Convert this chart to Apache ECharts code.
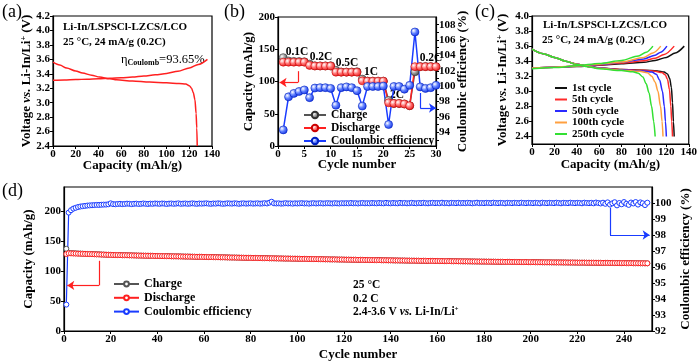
<!DOCTYPE html>
<html>
<head>
<meta charset="utf-8">
<script src="https://cdn.jsdelivr.net/npm/echarts@6.0.0/dist/echarts.min.js"></script>
<style>
  html, body { margin: 0; padding: 0; background: #fff; }
  #main { width: 700px; height: 364px; }
</style>
</head>
<body>
<div id="main"></div>
<script>
var FONT = 'Liberation Serif';

// (a) first cycle charge / discharge, [capacity mAh/g, voltage V]
var aCharge = [[0,3.31],[10,3.315],[20,3.32],[30,3.325],[40,3.33],[50,3.337],[60,3.345],[70,3.355],[80,3.37],[90,3.385],[100,3.405],[110,3.435],[120,3.48],[128,3.53],[136,3.6]];
var aDischarge = [[0,3.56],[6,3.52],[12,3.48],[20,3.44],[26,3.41],[34,3.38],[41,3.355],[50,3.33],[56,3.316],[70,3.30],[85,3.285],[100,3.275],[111,3.265],[117,3.258],[120,3.235],[122,3.2],[123.5,3.14],[125,3.04],[126,2.85],[126.6,2.65],[127,2.4]];

// (b) rate performance
var bCycles = [1,2,3,4,5,6,7,8,9,10,11,12,13,14,15,16,17,18,19,20,21,22,23,24,25,26,27,28,29,30];
var bCharge = [137,131.8,131.2,130.9,130.6,127,124.3,124.2,124.2,124.4,117.4,114.7,114.6,114.7,115.1,103.7,100.6,100.5,100.5,100.5,70.6,66,66,65.3,62.4,115,123.1,123.4,123.2,122.9];
var bDischarge = [130,130,130,130,130,125,124,124,124,124,114.5,114.5,114.5,114.5,114.5,101,100.5,100.5,100.5,100.5,67,66,66,65,62.5,123,123,123,123,123];
var bCE = [94.3,98.6,99.05,99.3,99.5,98.5,99.75,99.8,99.8,99.7,97.5,99.8,99.9,99.8,99.4,97.4,99.95,99.95,99.95,100.0,95.0,99.95,99.95,99.6,100.1,107.05,99.9,99.7,99.8,100.1];
var bRates = ['0.1C','0.2C','0.5C','1C','2C','0.2C'];

// (c) selected cycles, [capacity, voltage]
var cNames = ['1st cycle','5th cycle','50th cycle','100th cycle','250th cycle'];
var cColors = ['#111111','#ff2a2a','#2a2aff','#ffa040','#33e033'];
var c1C = [[0,3.31],[20,3.32],[40,3.33],[60,3.345],[80,3.365],[100,3.385],[110,3.41],[120,3.45],[128,3.51],[136,3.6]];
var c5C = [[0,3.31],[20,3.32],[40,3.333],[60,3.35],[80,3.375],[100,3.405],[110,3.44],[118,3.49],[127,3.6]];
var c50C = [[0,3.31],[20,3.32],[40,3.335],[60,3.355],[80,3.385],[100,3.43],[110,3.48],[115,3.52],[120.5,3.6]];
var c100C = [[0,3.31],[20,3.32],[40,3.337],[60,3.36],[80,3.39],[100,3.45],[108,3.51],[115,3.6]];
var c250C = [[0,3.30],[20,3.315],[40,3.34],[60,3.37],[80,3.41],[95,3.47],[102,3.52],[108,3.6]];
var c1D = [[0,3.56],[10,3.5],[20,3.45],[30,3.4],[40,3.36],[50,3.33],[60,3.31],[80,3.29],[100,3.28],[112,3.27],[118,3.255],[121,3.23],[123,3.17],[124.5,3.05],[125.5,2.85],[126.3,2.6],[127,2.4]];
var c5D = [[0,3.56],[10,3.5],[20,3.45],[30,3.4],[40,3.36],[50,3.33],[60,3.31],[80,3.29],[100,3.278],[110,3.265],[116,3.25],[119,3.22],[121,3.16],[122.8,3.02],[124,2.8],[124.8,2.6],[125.5,2.4]];
var c50D = [[0,3.56],[10,3.5],[20,3.45],[30,3.4],[40,3.36],[50,3.33],[60,3.31],[80,3.285],[100,3.27],[107,3.255],[111,3.225],[114,3.15],[116.5,3.0],[118.2,2.8],[119.2,2.6],[120,2.4]];
var c100D = [[0,3.56],[10,3.5],[20,3.45],[30,3.4],[40,3.36],[50,3.33],[60,3.305],[80,3.28],[96,3.265],[103,3.245],[107,3.2],[110,3.12],[112.5,3.0],[114.8,2.8],[116.2,2.6],[117,2.4]];
var c250D = [[0,3.56],[10,3.5],[20,3.45],[30,3.4],[40,3.355],[50,3.325],[60,3.3],[80,3.275],[90,3.26],[95,3.24],[99,3.19],[102,3.1],[104.5,2.98],[106.8,2.8],[108.7,2.6],[110,2.4]];
var cChargeSets = [c1C, c5C, c50C, c100C, c250C];
var cDischargeSets = [c1D, c5D, c50D, c100D, c250D];

// (d) long cycling at 0.2C, cycles 1..250
var dDischarge = [
128.3,129.5,129.4,129.2,129.1,128.9,128.8,128.6,128.5,128.3,
128.2,128.0,127.9,127.7,127.6,127.4,127.3,127.1,127.0,126.8,
126.7,126.6,126.5,126.4,126.3,126.3,126.2,126.1,126.0,125.9,
125.8,125.7,125.6,125.5,125.4,125.4,125.3,125.2,125.1,125.0,
124.9,124.8,124.8,124.7,124.6,124.5,124.4,124.4,124.3,124.2,
124.1,124.0,124.0,123.9,123.8,123.7,123.6,123.6,123.5,123.4,
123.3,123.2,123.2,123.1,123.0,122.9,122.8,122.8,122.7,122.6,
122.5,122.4,122.4,122.3,122.2,122.1,122.0,122.0,121.9,121.8,
121.7,121.7,121.6,121.5,121.4,121.4,121.3,121.2,121.2,121.1,
121.0,120.9,120.9,120.8,120.7,120.7,120.6,120.5,120.5,120.4,
120.3,120.2,120.2,120.1,120.0,120.0,119.9,119.8,119.8,119.7,
119.6,119.5,119.5,119.4,119.3,119.3,119.2,119.1,119.1,119.0,
118.9,118.9,118.8,118.7,118.7,118.6,118.6,118.5,118.4,118.4,
118.3,118.2,118.2,118.1,118.1,118.0,117.9,117.9,117.8,117.8,
117.7,117.6,117.6,117.5,117.5,117.4,117.3,117.3,117.2,117.2,
117.1,117.1,117.0,117.0,116.9,116.9,116.8,116.8,116.7,116.7,
116.6,116.6,116.5,116.5,116.4,116.4,116.3,116.3,116.2,116.2,
116.1,116.1,116.0,116.0,115.9,115.9,115.8,115.8,115.7,115.7,
115.6,115.6,115.5,115.5,115.4,115.4,115.3,115.3,115.2,115.2,
115.2,115.1,115.1,115.0,115.0,114.9,114.9,114.9,114.8,114.8,
114.7,114.7,114.7,114.6,114.6,114.5,114.5,114.5,114.4,114.4,
114.3,114.3,114.3,114.2,114.2,114.1,114.1,114.1,114.0,114.0,
113.9,113.9,113.9,113.8,113.8,113.7,113.7,113.7,113.6,113.6,
113.5,113.5,113.5,113.4,113.4,113.3,113.3,113.3,113.2,113.2,
113.1,113.1,113.1,113.0,113.0,112.9,112.9,112.9,112.8,112.8];
var dCharge = [
137.0,130.3,129.9,129.7,129.5,129.2,129.1,128.9,128.7,128.5,
128.4,128.2,128.1,127.9,127.8,127.6,127.4,127.2,127.1,126.9,
126.8,126.7,126.6,126.5,126.4,126.4,126.3,126.2,126.1,126.0,
125.9,125.8,125.7,125.6,125.5,125.5,125.4,125.3,125.2,125.1,
125.0,124.9,124.9,124.8,124.7,124.6,124.5,124.5,124.4,124.3,
124.2,124.1,124.1,124.0,123.9,123.8,123.7,123.7,123.6,123.5,
123.4,123.3,123.3,123.2,123.1,123.0,122.9,122.9,122.8,122.7,
122.6,122.5,122.5,122.4,122.3,122.2,122.1,122.1,122.0,121.9,
121.8,121.8,121.7,121.6,121.5,121.4,121.4,121.2,121.1,121.1,
121.0,120.9,120.9,120.8,120.7,120.7,120.6,120.5,120.5,120.4,
120.3,120.2,120.2,120.1,120.0,120.0,119.9,119.8,119.8,119.7,
119.6,119.5,119.5,119.4,119.3,119.3,119.2,119.1,119.1,119.0,
118.9,118.9,118.8,118.7,118.7,118.6,118.6,118.5,118.4,118.4,
118.3,118.2,118.2,118.1,118.1,118.0,117.9,117.9,117.8,117.8,
117.7,117.6,117.6,117.5,117.5,117.4,117.3,117.3,117.2,117.2,
117.1,117.1,117.0,117.0,116.9,116.9,116.8,116.8,116.7,116.7,
116.6,116.6,116.5,116.5,116.4,116.4,116.3,116.3,116.2,116.2,
116.1,116.1,116.0,116.0,115.9,115.9,115.8,115.8,115.7,115.7,
115.6,115.6,115.5,115.5,115.4,115.4,115.3,115.3,115.2,115.2,
115.2,115.1,115.1,115.0,115.0,114.9,114.9,114.9,114.8,114.8,
114.7,114.7,114.7,114.6,114.6,114.5,114.5,114.5,114.4,114.4,
114.3,114.3,114.3,114.2,114.2,114.1,114.1,114.1,114.0,114.0,
113.9,113.9,113.9,113.8,113.8,113.7,113.7,113.7,113.6,113.6,
113.5,113.5,113.5,113.4,113.4,113.3,113.3,113.3,113.2,113.2,
113.1,113.1,113.1,113.0,113.0,112.9,112.9,112.9,112.8,112.8];
var dCE = [
93.65,99.4,99.55,99.65,99.7,99.75,99.78,99.8,99.82,99.84,
99.85,99.86,99.87,99.88,99.88,99.89,99.9,99.9,99.92,99.98,
99.93,99.92,99.94,99.95,99.93,99.94,99.96,99.95,99.93,99.95,
99.96,99.94,99.95,99.97,99.95,99.94,99.96,99.95,99.97,99.96,
99.95,99.97,99.96,99.94,99.96,99.97,99.95,99.96,99.98,99.95,
99.96,99.97,99.95,99.96,99.98,99.96,99.95,99.97,99.96,99.97,
99.98,99.96,99.95,99.97,99.96,99.98,99.97,99.95,99.96,99.98,
99.97,99.96,99.98,99.97,99.95,99.97,99.98,99.96,99.97,99.98,
99.96,99.97,99.98,99.96,99.97,99.99,99.97,100.02,100.08,99.98,
99.97,99.98,99.96,99.97,99.99,99.97,99.98,99.96,99.98,99.97,
99.98,99.99,99.97,99.98,99.96,99.98,99.99,99.97,99.98,99.99,
99.97,99.98,99.99,99.98,99.97,99.99,99.98,99.97,99.99,99.98,
99.99,99.98,100.0,99.98,99.99,99.97,99.99,100.0,99.98,99.99,
99.98,100.0,99.99,99.98,100.0,99.99,99.98,100.01,99.99,99.98,
100.0,99.99,99.98,100.01,99.99,100.0,99.98,99.99,100.01,99.99,
99.98,100.0,99.99,100.01,99.99,99.98,100.0,100.01,99.99,100.0,
99.99,100.02,99.99,100.0,99.98,100.01,100.0,99.99,100.01,99.99,
100.0,99.99,100.01,100.0,99.98,100.0,100.02,99.99,100.0,99.99,
100.01,100.0,99.99,100.02,100.0,99.99,100.01,100.0,99.98,100.01,
100.0,99.99,100.01,100.0,99.99,100.02,100.0,99.99,100.01,100.0,
99.99,100.01,100.0,99.98,100.02,100.0,99.99,100.01,100.0,99.99,
100.02,100.0,99.98,100.01,100.0,99.99,100.02,100.0,99.99,100.01,
100.0,99.98,100.02,100.0,99.99,100.01,99.98,100.03,100.0,99.97,
100.02,99.95,100.04,99.9,99.98,100.05,99.85,100.0,99.92,100.06,
99.95,99.88,100.03,99.97,100.06,99.9,100.04,99.98,99.87,100.02];

var RED = '#ff2020', BLUE = '#1a3cff', GRAY = '#555555';

function pairs(ys) {
    return ys.map(function (v, i) { return [i + 1, v]; });
}
function ball(light, dark) {
    return {type: 'radial', x: 0.35, y: 0.35, r: 0.75,
        colorStops: [{offset: 0, color: '#ffffff'}, {offset: 0.45, color: light}, {offset: 1, color: dark}]};
}
var tickText = {color: '#000', fontFamily: FONT, fontWeight: 'bold', fontSize: 11, margin: 3};
var nameText = {color: '#000', fontFamily: FONT, fontWeight: 'bold', fontSize: 13};
var nameRich = {
    t: {color: '#000', fontFamily: FONT, fontWeight: 'bold', fontSize: 13},
    i: {color: '#000', fontFamily: FONT, fontWeight: 'bold', fontStyle: 'italic', fontSize: 13},
    s: {color: '#000', fontFamily: FONT, fontWeight: 'bold', fontSize: 8, verticalAlign: 'top'}
};
function axis(extra) {
    var base = {
        type: 'value',
        nameLocation: 'middle',
        nameMoveOverlap: false,
        nameTextStyle: Object.assign({rich: nameRich}, nameText),
        axisLine: {show: true, lineStyle: {color: '#000', width: 1.2}},
        axisTick: {show: true, length: 3, lineStyle: {color: '#000', width: 1}},
        axisLabel: Object.assign({}, tickText),
        splitLine: {show: false}
    };
    return Object.assign(base, extra);
}
function fixed1(v) { return v.toFixed(1); }
var frame = {show: true, borderColor: '#000', borderWidth: 1.2, backgroundColor: 'transparent'};
function arrow(color, pts) {
    return {
        silent: true, animation: false, emphasis: {disabled: true},
        symbol: ['none', 'arrow'], symbolSize: 7,
        label: {show: false},
        lineStyle: {color: color, width: 1.2, type: 'solid'},
        data: [
            [{coord: pts[0], symbol: 'none'}, {coord: pts[1], symbol: 'none'}],
            [{coord: pts[1]}, {coord: pts[2]}]
        ]
    };
}

var series = [];
// (a)
series.push({type: 'line', xAxisIndex: 0, yAxisIndex: 0, data: aCharge, symbol: 'none',
    smooth: 0.3, smoothMonotone: 'x', lineStyle: {color: RED, width: 1.5}});
series.push({type: 'line', xAxisIndex: 0, yAxisIndex: 0, data: aDischarge, symbol: 'none',
    smooth: 0.3, smoothMonotone: 'x', lineStyle: {color: RED, width: 1.5}});
// (b)
series.push({type: 'line', name: 'Charge', xAxisIndex: 1, yAxisIndex: 1,
    data: bCycles.map(function (c, i) { return [c, bCharge[i]]; }),
    symbol: 'circle', symbolSize: 8,
    itemStyle: {color: ball('#9a9a9a', '#3a3a3a'), borderColor: '#333', borderWidth: 0.6},
    lineStyle: {color: GRAY, width: 1.5}});
series.push({type: 'line', name: 'Discharge', xAxisIndex: 1, yAxisIndex: 1,
    data: bCycles.map(function (c, i) { return [c, bDischarge[i]]; }),
    symbol: 'circle', symbolSize: 8,
    itemStyle: {color: ball('#ff7070', '#e01010'), borderColor: '#c00', borderWidth: 0.6},
    lineStyle: {color: RED, width: 1.5},
    markLine: arrow(RED, [[3.8, 116], [3.8, 98.5], [0.3, 98.5]])});
series.push({type: 'line', name: 'Coulombic efficiency', xAxisIndex: 1, yAxisIndex: 2,
    data: bCycles.map(function (c, i) { return [c, bCE[i]]; }),
    symbol: 'circle', symbolSize: 8,
    itemStyle: {color: ball('#6080ff', '#0a28e0'), borderColor: '#0020c0', borderWidth: 0.6},
    lineStyle: {color: BLUE, width: 1.5},
    markLine: arrow(BLUE, [[27, 99.1], [27, 97.15], [30, 97.15]])});
// (c)
cNames.forEach(function (n, k) {
    [cChargeSets[k], cDischargeSets[k]].forEach(function (d) {
        series.push({type: 'line', name: n, xAxisIndex: 2, yAxisIndex: 3, data: d, symbol: 'none',
            smooth: 0.3, smoothMonotone: 'x', itemStyle: {color: cColors[k]},
            lineStyle: {color: cColors[k], width: 1.5}});
    });
});
// (d)
function hollow(color) {
    return {color: '#ffffff', borderColor: color, borderWidth: 1};
}
series.push({type: 'line', name: 'dCharge', xAxisIndex: 3, yAxisIndex: 4, data: pairs(dCharge),
    symbol: 'circle', symbolSize: 5, itemStyle: hollow(GRAY), lineStyle: {color: GRAY, width: 1.2}});
series.push({type: 'line', name: 'dDischarge', xAxisIndex: 3, yAxisIndex: 4, data: pairs(dDischarge),
    symbol: 'circle', symbolSize: 5, itemStyle: hollow(RED), lineStyle: {color: RED, width: 1.2},
    markLine: arrow(RED, [[15, 117], [15, 76], [1.4, 76]])});
series.push({type: 'line', name: 'dCE', xAxisIndex: 3, yAxisIndex: 5, data: pairs(dCE),
    symbol: 'circle', symbolSize: 5, itemStyle: hollow(BLUE), lineStyle: {color: BLUE, width: 1.2},
    markLine: arrow(BLUE, [[234, 99.7], [234, 98.0], [251, 98.0]])});

var legendText = {color: '#000', fontFamily: FONT, fontWeight: 'bold', fontSize: 11.5, lineHeight: 12};
var dNames = {dCharge: 'Charge', dDischarge: 'Discharge', dCE: 'Coulombic efficiency'};

function txt(x, y, text, size, weight, align) {
    return {type: 'text', x: x, y: y, silent: true,
        style: {text: text, font: (weight || 'bold') + ' ' + (size || 11) + 'px "' + FONT + '"',
            fill: '#000', align: align || 'left', verticalAlign: 'middle'}};
}
var richSmall = {
    b: {fontFamily: FONT, fontWeight: 'bold', fontSize: 11.5, fill: '#000'},
    i: {fontFamily: FONT, fontWeight: 'bold', fontStyle: 'italic', fontSize: 11.5, fill: '#000'},
    s: {fontFamily: FONT, fontWeight: 'bold', fontSize: 7, fill: '#000', verticalAlign: 'top'},
    n: {fontFamily: FONT, fontSize: 12.5, fill: '#000'},
    sub: {fontFamily: FONT, fontWeight: 'bold', fontSize: 8, fill: '#000', verticalAlign: 'bottom'}
};
function richTxt(x, y, text) {
    return {type: 'text', x: x, y: y, silent: true,
        style: {text: text, rich: richSmall, align: 'left', verticalAlign: 'middle'}};
}

var graphics = [
    txt(2, 12, '(a)', 18, 'normal'),
    txt(224, 12, '(b)', 18, 'normal'),
    txt(475, 12, '(c)', 18, 'normal'),
    txt(2, 191, '(d)', 18, 'normal'),
    txt(63, 27, 'Li-In/LSPSCl-LZCS/LCO', 11),
    txt(63, 42, '25 \u00B0C, 24 mA/g (0.2C)', 11),
    richTxt(121, 60, '{n|\u03B7}{sub|Coulomb}{n|=93.65%}'),
    txt(543, 25, 'Li-In/LSPSCl-LZCS/LCO', 11),
    txt(542, 40, '25 \u00B0C, 24 mA/g (0.2C)', 11),
    txt(297, 52, bRates[0], 11.5, 'bold', 'center'),
    txt(321, 57, bRates[1], 11.5, 'bold', 'center'),
    txt(347, 63, bRates[2], 11.5, 'bold', 'center'),
    txt(371, 72, bRates[3], 11.5, 'bold', 'center'),
    txt(397, 95, bRates[4], 11.5, 'bold', 'center'),
    txt(431, 58, bRates[5], 11.5, 'bold', 'center'),
    txt(353, 285, '25 \u00B0C', 11.5),
    txt(353, 299, '0.2 C', 11.5),
    richTxt(353, 312, '{b|2.4-3.6 V }{i|vs.}{b| Li-In/Li}{s|+}')
];

var chart = echarts.init(document.getElementById('main'));
chart.setOption({
    animation: false,
    backgroundColor: '#fff',
    grid: [
        Object.assign({left: 53, top: 16, width: 159, height: 130}, frame),
        Object.assign({left: 278, top: 17, width: 158, height: 129}, frame),
        Object.assign({left: 532, top: 16, width: 160, height: 128}, frame),
        Object.assign({left: 64, top: 187, width: 592, height: 144}, frame)
    ],
    xAxis: [
        axis({gridIndex: 0, min: 0, max: 140, interval: 20, name: 'Capacity (mAh/g)', nameGap: 13}),
        axis({gridIndex: 1, min: 0, max: 30, interval: 5, name: 'Cycle number', nameGap: 12}),
        axis({gridIndex: 2, min: 0, max: 140, interval: 20, name: 'Capacity (mAh/g)', nameGap: 14}),
        axis({gridIndex: 3, min: 0, max: 252, interval: 20, name: 'Cycle number', nameGap: 17,
            axisLabel: Object.assign({}, tickText, {showMaxLabel: false})})
    ],
    yAxis: [
        axis({gridIndex: 0, min: 2.4, max: 4.2, interval: 0.2, nameRotate: 90, nameGap: 20,
            name: '{t|Voltage }{i|vs.}{t| Li-In/Li}{s|+}{t| (V)}',
            axisLabel: Object.assign({}, tickText, {formatter: fixed1})}),
        axis({gridIndex: 1, min: 0, max: 200, interval: 50, nameRotate: 90, nameGap: 23,
            name: 'Capacity (mAh/g)'}),
        axis({gridIndex: 1, position: 'right', min: 92.2, max: 109, nameRotate: 90, nameGap: 20,
            name: 'Coulombic efficiency (%)',
            axisLabel: Object.assign({}, tickText, {customValues: [94, 96, 98, 100, 102, 104, 106, 108]}),
            axisTick: {show: true, length: 3, lineStyle: {color: '#000'},
                customValues: [93, 94, 95, 96, 97, 98, 99, 100, 101, 102, 103, 104, 105, 106, 107, 108]}}),
        axis({gridIndex: 2, min: 2.3, max: 4.0, nameRotate: 90, nameGap: 23,
            name: '{t|Voltage }{i|vs.}{t| Li-In/Li}{s|+}{t| (V)}',
            axisLabel: Object.assign({}, tickText, {formatter: fixed1,
                customValues: [2.4, 2.6, 2.8, 3.0, 3.2, 3.4, 3.6, 3.8, 4.0]}),
            axisTick: {show: true, length: 3, lineStyle: {color: '#000'},
                customValues: [2.4, 2.6, 2.8, 3.0, 3.2, 3.4, 3.6, 3.8, 4.0]}}),
        axis({gridIndex: 3, min: 0, max: 240, interval: 50, nameRotate: 90, nameGap: 29,
            name: 'Capacity (mAh/g)',
            axisLabel: Object.assign({}, tickText, {showMaxLabel: false})}),
        axis({gridIndex: 3, position: 'right', min: 92, max: 101, interval: 1, nameRotate: 90, nameGap: 27,
            name: 'Coulombic efficiency (%)',
            axisLabel: Object.assign({}, tickText, {showMaxLabel: false})})
    ],
    legend: [
        {left: 303, top: 109, orient: 'vertical', padding: 0, itemWidth: 22, itemHeight: 8, itemGap: 1,
            selectedMode: false, textStyle: legendText,
            data: ['Charge', 'Discharge', 'Coulombic efficiency']},
        {left: 555, top: 82.5, orient: 'vertical', padding: 0, itemWidth: 12, itemHeight: 2, itemGap: 0.5,
            selectedMode: false, icon: 'rect',
            textStyle: Object.assign({}, legendText, {fontSize: 11, lineHeight: 11}),
            data: cNames},
        {left: 113, top: 278, orient: 'vertical', padding: 0, itemWidth: 25, itemHeight: 6, itemGap: 1.8,
            selectedMode: false, textStyle: Object.assign({}, legendText, {fontSize: 12}),
            formatter: function (n) { return dNames[n]; },
            data: ['dCharge', 'dDischarge', 'dCE']}
    ],
    graphic: graphics,
    series: series
});
</script>
</body>
</html>
